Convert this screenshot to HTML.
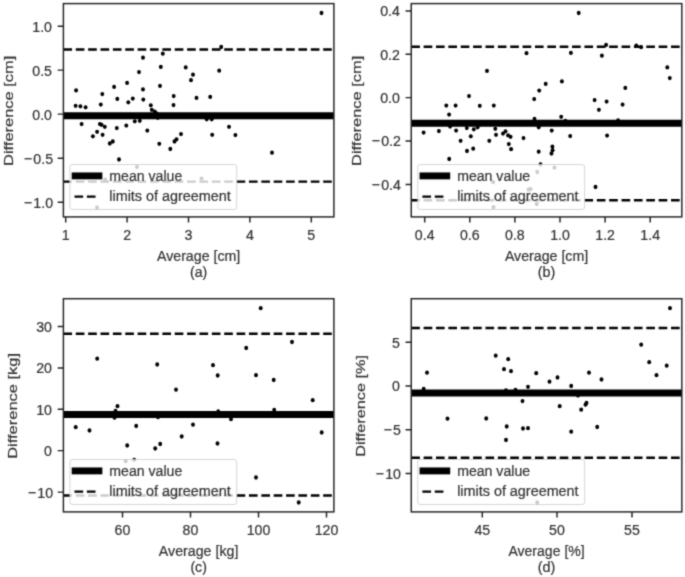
<!DOCTYPE html>
<html lang="en">
<head>
<meta charset="utf-8">
<title>Bland-Altman plots</title>
<style>
html,body{margin:0;padding:0;background:#fff;}
body{width:685px;height:577px;overflow:hidden;font-family:"Liberation Sans", sans-serif;}
svg{display:block;}
svg text{font-family:"Liberation Sans", sans-serif;fill:#333;stroke:#333;stroke-width:0.22px;}
</style>
</head>
<body>
<svg width="685" height="577" viewBox="0 0 685 577">
<defs>
<filter id="soft" filterUnits="userSpaceOnUse" x="0" y="0" width="685" height="577" color-interpolation-filters="sRGB">
<feConvolveMatrix order="3" kernelMatrix="0.02890 0.11220 0.02890 0.11220 0.43560 0.11220 0.02890 0.11220 0.02890" divisor="1" edgeMode="duplicate" preserveAlpha="false"/>
</filter>
</defs>
<rect width="685" height="577" fill="#fff"/>
<g filter="url(#soft)">
<rect width="685" height="577" fill="#fff"/>
<g id="panel-a">
<g fill="#000"><ellipse cx="76.1" cy="90.4" rx="1.95" ry="2.15"/><ellipse cx="75.6" cy="105.8" rx="1.95" ry="2.15"/><ellipse cx="80.4" cy="106.3" rx="1.95" ry="2.15"/><ellipse cx="85.6" cy="107.3" rx="1.95" ry="2.15"/><ellipse cx="81.6" cy="124.1" rx="1.95" ry="2.15"/><ellipse cx="102.3" cy="94.1" rx="1.95" ry="2.15"/><ellipse cx="100.8" cy="104.6" rx="1.95" ry="2.15"/><ellipse cx="114.1" cy="86.9" rx="1.95" ry="2.15"/><ellipse cx="117.3" cy="98.9" rx="1.95" ry="2.15"/><ellipse cx="127.1" cy="82.9" rx="1.95" ry="2.15"/><ellipse cx="128.3" cy="102.3" rx="1.95" ry="2.15"/><ellipse cx="132.8" cy="98.6" rx="1.95" ry="2.15"/><ellipse cx="139.0" cy="72.1" rx="1.95" ry="2.15"/><ellipse cx="143.0" cy="57.7" rx="1.95" ry="2.15"/><ellipse cx="143.0" cy="89.4" rx="1.95" ry="2.15"/><ellipse cx="143.3" cy="99.6" rx="1.95" ry="2.15"/><ellipse cx="150.8" cy="105.3" rx="1.95" ry="2.15"/><ellipse cx="151.8" cy="109.8" rx="1.95" ry="2.15"/><ellipse cx="154.8" cy="111.6" rx="1.95" ry="2.15"/><ellipse cx="156.8" cy="113.6" rx="1.95" ry="2.15"/><ellipse cx="157.8" cy="117.8" rx="1.95" ry="2.15"/><ellipse cx="160.8" cy="66.9" rx="1.95" ry="2.15"/><ellipse cx="160.0" cy="85.9" rx="1.95" ry="2.15"/><ellipse cx="162.8" cy="53.7" rx="1.95" ry="2.15"/><ellipse cx="99.9" cy="124.1" rx="1.95" ry="2.15"/><ellipse cx="101.6" cy="124.8" rx="1.95" ry="2.15"/><ellipse cx="104.8" cy="126.8" rx="1.95" ry="2.15"/><ellipse cx="97.1" cy="131.8" rx="1.95" ry="2.15"/><ellipse cx="92.9" cy="136.3" rx="1.95" ry="2.15"/><ellipse cx="102.6" cy="134.8" rx="1.95" ry="2.15"/><ellipse cx="116.8" cy="128.1" rx="1.95" ry="2.15"/><ellipse cx="126.3" cy="125.6" rx="1.95" ry="2.15"/><ellipse cx="134.8" cy="121.3" rx="1.95" ry="2.15"/><ellipse cx="139.8" cy="120.8" rx="1.95" ry="2.15"/><ellipse cx="147.3" cy="130.6" rx="1.95" ry="2.15"/><ellipse cx="112.8" cy="141.5" rx="1.95" ry="2.15"/><ellipse cx="109.8" cy="143.5" rx="1.95" ry="2.15"/><ellipse cx="159.3" cy="143.8" rx="1.95" ry="2.15"/><ellipse cx="321.5" cy="13.0" rx="1.95" ry="2.15"/><ellipse cx="221.2" cy="47.0" rx="1.95" ry="2.15"/><ellipse cx="185.7" cy="67.4" rx="1.95" ry="2.15"/><ellipse cx="193.0" cy="74.7" rx="1.95" ry="2.15"/><ellipse cx="191.0" cy="80.2" rx="1.95" ry="2.15"/><ellipse cx="219.2" cy="70.7" rx="1.95" ry="2.15"/><ellipse cx="173.7" cy="96.1" rx="1.95" ry="2.15"/><ellipse cx="173.5" cy="105.1" rx="1.95" ry="2.15"/><ellipse cx="196.5" cy="97.9" rx="1.95" ry="2.15"/><ellipse cx="210.2" cy="96.9" rx="1.95" ry="2.15"/><ellipse cx="206.7" cy="119.3" rx="1.95" ry="2.15"/><ellipse cx="211.7" cy="119.3" rx="1.95" ry="2.15"/><ellipse cx="229.0" cy="126.8" rx="1.95" ry="2.15"/><ellipse cx="235.4" cy="135.1" rx="1.95" ry="2.15"/><ellipse cx="212.2" cy="134.8" rx="1.95" ry="2.15"/><ellipse cx="181.0" cy="134.1" rx="1.95" ry="2.15"/><ellipse cx="176.5" cy="139.3" rx="1.95" ry="2.15"/><ellipse cx="174.5" cy="141.5" rx="1.95" ry="2.15"/><ellipse cx="119.0" cy="159.5" rx="1.95" ry="2.15"/><ellipse cx="170.3" cy="149.0" rx="1.95" ry="2.15"/><ellipse cx="272.0" cy="152.7" rx="1.95" ry="2.15"/><ellipse cx="137.0" cy="167.0" rx="1.95" ry="2.15"/><ellipse cx="97.0" cy="207.5" rx="1.95" ry="2.15"/><ellipse cx="105.2" cy="179.6" rx="1.95" ry="2.15"/><ellipse cx="201.5" cy="178.6" rx="1.95" ry="2.15"/></g>
<line x1="63.4" x2="333.85" y1="115.7" y2="115.7" stroke="#000" stroke-width="6.9"/>
<line x1="63.4" x2="333.85" y1="49.5" y2="49.5" stroke="#000" stroke-width="2.45" stroke-dasharray="8.65 3.72"/>
<line x1="63.4" x2="333.85" y1="181.6" y2="181.6" stroke="#000" stroke-width="2.45" stroke-dasharray="8.65 3.72"/>
<path d="M65.7 216.9v5.7M127.1 216.9v5.7M188.5 216.9v5.7M249.9 216.9v5.7M311.3 216.9v5.7M63.4 26.2h-5.7M63.4 70.1h-5.7M63.4 114.1h-5.7M63.4 158.2h-5.7M63.4 202.2h-5.7" stroke="#222" stroke-width="1.45" fill="none"/>
<rect x="63.4" y="3.6" width="270.5" height="213.3" fill="none" stroke="#222" stroke-width="1.45"/>
<text transform="translate(65.70 240.40) scale(0.9211 1)" text-anchor="middle" font-size="15.4">1</text>
<text transform="translate(127.10 240.40) scale(0.9211 1)" text-anchor="middle" font-size="15.4">2</text>
<text transform="translate(188.50 240.40) scale(0.9211 1)" text-anchor="middle" font-size="15.4">3</text>
<text transform="translate(249.90 240.40) scale(0.9211 1)" text-anchor="middle" font-size="15.4">4</text>
<text transform="translate(311.30 240.40) scale(0.9211 1)" text-anchor="middle" font-size="15.4">5</text>
<text transform="translate(52.00 31.60) scale(0.9212 1)" text-anchor="end" font-size="15.4">1.0</text>
<text transform="translate(52.00 75.50) scale(0.9212 1)" text-anchor="end" font-size="15.4">0.5</text>
<text transform="translate(52.00 119.50) scale(0.9212 1)" text-anchor="end" font-size="15.4">0.0</text>
<text transform="translate(52.00 163.60) scale(0.9212 1)" text-anchor="end" font-size="15.4" dx="1.14 1.14">−0.5</text>
<text transform="translate(52.00 207.60) scale(0.9212 1)" text-anchor="end" font-size="15.4" dx="1.14 1.14">−1.0</text>
<text transform="translate(198.62 260.80) scale(0.9225 1)" text-anchor="middle" font-size="15.4">Average [cm]</text>
<text transform="translate(198.62 276.50) scale(0.9178 1)" text-anchor="middle" font-size="15.4">(a)</text>
<text transform="translate(13.10 110.85) rotate(-90) scale(1.2545 1)" text-anchor="middle" font-size="13.1">Difference [cm]</text>
<rect x="69.9" y="164.5" width="166.8" height="45.0" rx="2.4" fill="#fff" fill-opacity="0.8" stroke="#ccc" stroke-opacity="0.8" stroke-width="1"/>
<line x1="71.70" x2="102.35" y1="175.9" y2="175.9" stroke="#000" stroke-width="6.9"/>
<line x1="74.5" x2="96.2" y1="196.6" y2="196.6" stroke="#000" stroke-width="2.45" stroke-dasharray="8.65 3.72"/>
<text transform="translate(109.30 181.20) scale(0.9166 1)" text-anchor="start" font-size="15.4">mean value</text>
<text transform="translate(109.30 200.70) scale(0.9343 1)" text-anchor="start" font-size="15.4">limits of agreement</text>
</g>
<g id="panel-b">
<g fill="#000"><ellipse cx="487.0" cy="70.9" rx="1.95" ry="2.15"/><ellipse cx="469.0" cy="96.1" rx="1.95" ry="2.15"/><ellipse cx="446.3" cy="105.6" rx="1.95" ry="2.15"/><ellipse cx="455.6" cy="105.6" rx="1.95" ry="2.15"/><ellipse cx="479.8" cy="105.8" rx="1.95" ry="2.15"/><ellipse cx="493.8" cy="105.6" rx="1.95" ry="2.15"/><ellipse cx="449.1" cy="114.6" rx="1.95" ry="2.15"/><ellipse cx="450.1" cy="126.6" rx="1.95" ry="2.15"/><ellipse cx="423.6" cy="132.6" rx="1.95" ry="2.15"/><ellipse cx="438.9" cy="131.1" rx="1.95" ry="2.15"/><ellipse cx="456.1" cy="130.6" rx="1.95" ry="2.15"/><ellipse cx="466.8" cy="128.1" rx="1.95" ry="2.15"/><ellipse cx="473.8" cy="129.3" rx="1.95" ry="2.15"/><ellipse cx="477.6" cy="127.3" rx="1.95" ry="2.15"/><ellipse cx="470.8" cy="136.3" rx="1.95" ry="2.15"/><ellipse cx="460.6" cy="140.8" rx="1.95" ry="2.15"/><ellipse cx="489.3" cy="140.8" rx="1.95" ry="2.15"/><ellipse cx="495.3" cy="128.8" rx="1.95" ry="2.15"/><ellipse cx="496.0" cy="134.8" rx="1.95" ry="2.15"/><ellipse cx="503.0" cy="133.6" rx="1.95" ry="2.15"/><ellipse cx="505.5" cy="131.3" rx="1.95" ry="2.15"/><ellipse cx="508.1" cy="135.4" rx="1.95" ry="2.15"/><ellipse cx="510.6" cy="136.8" rx="1.95" ry="2.15"/><ellipse cx="578.7" cy="13.0" rx="1.95" ry="2.15"/><ellipse cx="606.1" cy="44.9" rx="1.95" ry="2.15"/><ellipse cx="636.3" cy="45.7" rx="1.95" ry="2.15"/><ellipse cx="641.1" cy="47.2" rx="1.95" ry="2.15"/><ellipse cx="526.5" cy="53.2" rx="1.95" ry="2.15"/><ellipse cx="570.9" cy="52.9" rx="1.95" ry="2.15"/><ellipse cx="601.9" cy="55.7" rx="1.95" ry="2.15"/><ellipse cx="667.3" cy="67.4" rx="1.95" ry="2.15"/><ellipse cx="669.8" cy="78.1" rx="1.95" ry="2.15"/><ellipse cx="561.9" cy="81.4" rx="1.95" ry="2.15"/><ellipse cx="545.7" cy="83.9" rx="1.95" ry="2.15"/><ellipse cx="539.2" cy="90.6" rx="1.95" ry="2.15"/><ellipse cx="625.3" cy="87.9" rx="1.95" ry="2.15"/><ellipse cx="534.2" cy="99.1" rx="1.95" ry="2.15"/><ellipse cx="594.6" cy="100.1" rx="1.95" ry="2.15"/><ellipse cx="606.6" cy="101.6" rx="1.95" ry="2.15"/><ellipse cx="622.6" cy="104.6" rx="1.95" ry="2.15"/><ellipse cx="598.9" cy="109.8" rx="1.95" ry="2.15"/><ellipse cx="561.2" cy="116.8" rx="1.95" ry="2.15"/><ellipse cx="534.5" cy="118.8" rx="1.95" ry="2.15"/><ellipse cx="565.4" cy="120.8" rx="1.95" ry="2.15"/><ellipse cx="618.1" cy="120.3" rx="1.95" ry="2.15"/><ellipse cx="538.7" cy="127.3" rx="1.95" ry="2.15"/><ellipse cx="551.7" cy="130.6" rx="1.95" ry="2.15"/><ellipse cx="523.5" cy="138.1" rx="1.95" ry="2.15"/><ellipse cx="570.2" cy="136.1" rx="1.95" ry="2.15"/><ellipse cx="607.1" cy="135.6" rx="1.95" ry="2.15"/><ellipse cx="449.2" cy="159.0" rx="1.95" ry="2.15"/><ellipse cx="467.0" cy="151.0" rx="1.95" ry="2.15"/><ellipse cx="473.2" cy="148.7" rx="1.95" ry="2.15"/><ellipse cx="508.8" cy="144.1" rx="1.95" ry="2.15"/><ellipse cx="511.1" cy="149.2" rx="1.95" ry="2.15"/><ellipse cx="538.7" cy="151.7" rx="1.95" ry="2.15"/><ellipse cx="552.4" cy="146.7" rx="1.95" ry="2.15"/><ellipse cx="552.6" cy="150.2" rx="1.95" ry="2.15"/><ellipse cx="551.5" cy="153.5" rx="1.95" ry="2.15"/><ellipse cx="540.5" cy="164.5" rx="1.95" ry="2.15"/><ellipse cx="595.5" cy="187.0" rx="1.95" ry="2.15"/><ellipse cx="493.2" cy="182.2" rx="1.95" ry="2.15"/><ellipse cx="493.5" cy="207.2" rx="1.95" ry="2.15"/><ellipse cx="554.5" cy="167.7" rx="1.95" ry="2.15"/><ellipse cx="537.2" cy="172.0" rx="1.95" ry="2.15"/><ellipse cx="528.5" cy="189.7" rx="1.95" ry="2.15"/><ellipse cx="530.5" cy="189.2" rx="1.95" ry="2.15"/><ellipse cx="536.7" cy="204.0" rx="1.95" ry="2.15"/></g>
<line x1="411.25" x2="681.85" y1="123.25" y2="123.25" stroke="#000" stroke-width="6.9"/>
<line x1="411.25" x2="681.85" y1="46.7" y2="46.7" stroke="#000" stroke-width="2.45" stroke-dasharray="8.65 3.72"/>
<line x1="411.25" x2="681.85" y1="200.2" y2="200.2" stroke="#000" stroke-width="2.45" stroke-dasharray="8.65 3.72"/>
<path d="M424.7 216.9v5.7M469.8 216.9v5.7M514.9 216.9v5.7M560.0 216.9v5.7M605.1 216.9v5.7M650.2 216.9v5.7M411.25 11.0h-5.7M411.25 54.3h-5.7M411.25 97.6h-5.7M411.25 141.0h-5.7M411.25 184.4h-5.7" stroke="#222" stroke-width="1.45" fill="none"/>
<rect x="411.25" y="3.6" width="270.6" height="213.3" fill="none" stroke="#222" stroke-width="1.45"/>
<text transform="translate(424.70 240.40) scale(0.9212 1)" text-anchor="middle" font-size="15.4">0.4</text>
<text transform="translate(469.80 240.40) scale(0.9212 1)" text-anchor="middle" font-size="15.4">0.6</text>
<text transform="translate(514.90 240.40) scale(0.9212 1)" text-anchor="middle" font-size="15.4">0.8</text>
<text transform="translate(560.00 240.40) scale(0.9212 1)" text-anchor="middle" font-size="15.4">1.0</text>
<text transform="translate(605.10 240.40) scale(0.9212 1)" text-anchor="middle" font-size="15.4">1.2</text>
<text transform="translate(650.20 240.40) scale(0.9212 1)" text-anchor="middle" font-size="15.4">1.4</text>
<text transform="translate(399.85 16.40) scale(0.9212 1)" text-anchor="end" font-size="15.4">0.4</text>
<text transform="translate(399.85 59.70) scale(0.9212 1)" text-anchor="end" font-size="15.4">0.2</text>
<text transform="translate(399.85 103.00) scale(0.9212 1)" text-anchor="end" font-size="15.4">0.0</text>
<text transform="translate(399.85 146.40) scale(0.9212 1)" text-anchor="end" font-size="15.4" dx="1.14 1.14">−0.2</text>
<text transform="translate(399.85 189.80) scale(0.9212 1)" text-anchor="end" font-size="15.4" dx="1.14 1.14">−0.4</text>
<text transform="translate(546.55 260.80) scale(0.9225 1)" text-anchor="middle" font-size="15.4">Average [cm]</text>
<text transform="translate(546.55 276.50) scale(0.9323 1)" text-anchor="middle" font-size="15.4">(b)</text>
<text transform="translate(360.95 110.85) rotate(-90) scale(1.2545 1)" text-anchor="middle" font-size="13.1">Difference [cm]</text>
<rect x="417.8" y="164.5" width="166.8" height="45.0" rx="2.4" fill="#fff" fill-opacity="0.8" stroke="#ccc" stroke-opacity="0.8" stroke-width="1"/>
<line x1="419.55" x2="450.20" y1="175.9" y2="175.9" stroke="#000" stroke-width="6.9"/>
<line x1="422.4" x2="444.1" y1="196.6" y2="196.6" stroke="#000" stroke-width="2.45" stroke-dasharray="8.65 3.72"/>
<text transform="translate(457.15 181.20) scale(0.9166 1)" text-anchor="start" font-size="15.4">mean value</text>
<text transform="translate(457.15 200.70) scale(0.9343 1)" text-anchor="start" font-size="15.4">limits of agreement</text>
</g>
<g id="panel-c">
<g fill="#000"><ellipse cx="97.2" cy="358.7" rx="1.95" ry="2.15"/><ellipse cx="157.2" cy="364.5" rx="1.95" ry="2.15"/><ellipse cx="117.5" cy="406.2" rx="1.95" ry="2.15"/><ellipse cx="115.5" cy="411.0" rx="1.95" ry="2.15"/><ellipse cx="114.5" cy="417.7" rx="1.95" ry="2.15"/><ellipse cx="158.0" cy="417.2" rx="1.95" ry="2.15"/><ellipse cx="75.7" cy="427.2" rx="1.95" ry="2.15"/><ellipse cx="89.5" cy="430.5" rx="1.95" ry="2.15"/><ellipse cx="136.2" cy="426.0" rx="1.95" ry="2.15"/><ellipse cx="260.7" cy="308.2" rx="1.95" ry="2.15"/><ellipse cx="292.0" cy="342.0" rx="1.95" ry="2.15"/><ellipse cx="246.2" cy="348.0" rx="1.95" ry="2.15"/><ellipse cx="213.0" cy="365.2" rx="1.95" ry="2.15"/><ellipse cx="217.7" cy="375.5" rx="1.95" ry="2.15"/><ellipse cx="256.0" cy="375.2" rx="1.95" ry="2.15"/><ellipse cx="273.7" cy="380.0" rx="1.95" ry="2.15"/><ellipse cx="176.0" cy="389.7" rx="1.95" ry="2.15"/><ellipse cx="312.7" cy="400.2" rx="1.95" ry="2.15"/><ellipse cx="218.2" cy="411.5" rx="1.95" ry="2.15"/><ellipse cx="274.2" cy="410.0" rx="1.95" ry="2.15"/><ellipse cx="231.0" cy="419.2" rx="1.95" ry="2.15"/><ellipse cx="193.0" cy="424.7" rx="1.95" ry="2.15"/><ellipse cx="321.7" cy="432.5" rx="1.95" ry="2.15"/><ellipse cx="127.2" cy="445.5" rx="1.95" ry="2.15"/><ellipse cx="155.2" cy="448.5" rx="1.95" ry="2.15"/><ellipse cx="160.2" cy="444.0" rx="1.95" ry="2.15"/><ellipse cx="181.7" cy="436.5" rx="1.95" ry="2.15"/><ellipse cx="217.5" cy="443.5" rx="1.95" ry="2.15"/><ellipse cx="256.0" cy="477.5" rx="1.95" ry="2.15"/><ellipse cx="298.7" cy="502.5" rx="1.95" ry="2.15"/><ellipse cx="125.7" cy="461.2" rx="1.95" ry="2.15"/><ellipse cx="134.2" cy="459.8" rx="1.95" ry="2.15"/></g>
<line x1="63.4" x2="333.85" y1="414.5" y2="414.5" stroke="#000" stroke-width="6.9"/>
<line x1="63.4" x2="333.85" y1="333.7" y2="333.7" stroke="#000" stroke-width="2.45" stroke-dasharray="8.65 3.72"/>
<line x1="63.4" x2="333.85" y1="495.5" y2="495.5" stroke="#000" stroke-width="2.45" stroke-dasharray="8.65 3.72"/>
<path d="M122.5 511.9v5.7M190.5 511.9v5.7M258.5 511.9v5.7M326.5 511.9v5.7M63.4 326.5h-5.7M63.4 368.0h-5.7M63.4 409.3h-5.7M63.4 450.6h-5.7M63.4 492.1h-5.7" stroke="#222" stroke-width="1.45" fill="none"/>
<rect x="63.4" y="298.7" width="270.5" height="213.2" fill="none" stroke="#222" stroke-width="1.45"/>
<text transform="translate(122.50 535.40) scale(0.9211 1)" text-anchor="middle" font-size="15.4">60</text>
<text transform="translate(190.50 535.40) scale(0.9211 1)" text-anchor="middle" font-size="15.4">80</text>
<text transform="translate(258.50 535.40) scale(0.9211 1)" text-anchor="middle" font-size="15.4">100</text>
<text transform="translate(326.50 535.40) scale(0.9211 1)" text-anchor="middle" font-size="15.4">120</text>
<text transform="translate(52.00 331.90) scale(0.9211 1)" text-anchor="end" font-size="15.4">30</text>
<text transform="translate(52.00 373.40) scale(0.9211 1)" text-anchor="end" font-size="15.4">20</text>
<text transform="translate(52.00 414.70) scale(0.9211 1)" text-anchor="end" font-size="15.4">10</text>
<text transform="translate(52.00 456.00) scale(0.9211 1)" text-anchor="end" font-size="15.4">0</text>
<text transform="translate(52.00 497.50) scale(0.9211 1)" text-anchor="end" font-size="15.4" dx="1.14 1.14">−10</text>
<text transform="translate(198.62 555.80) scale(0.9235 1)" text-anchor="middle" font-size="15.4">Average [kg]</text>
<text transform="translate(198.62 571.50) scale(0.9185 1)" text-anchor="middle" font-size="15.4">(c)</text>
<text transform="translate(17.20 405.90) rotate(-90) scale(1.2563 1)" text-anchor="middle" font-size="13.1">Difference [kg]</text>
<rect x="69.9" y="459.5" width="166.8" height="45.0" rx="2.4" fill="#fff" fill-opacity="0.8" stroke="#ccc" stroke-opacity="0.8" stroke-width="1"/>
<line x1="71.70" x2="102.35" y1="470.9" y2="470.9" stroke="#000" stroke-width="6.9"/>
<line x1="74.5" x2="96.2" y1="491.6" y2="491.6" stroke="#000" stroke-width="2.45" stroke-dasharray="8.65 3.72"/>
<text transform="translate(109.30 476.20) scale(0.9166 1)" text-anchor="start" font-size="15.4">mean value</text>
<text transform="translate(109.30 495.70) scale(0.9343 1)" text-anchor="start" font-size="15.4">limits of agreement</text>
</g>
<g id="panel-d">
<g fill="#000"><ellipse cx="427.0" cy="372.7" rx="1.95" ry="2.15"/><ellipse cx="423.7" cy="389.0" rx="1.95" ry="2.15"/><ellipse cx="495.7" cy="355.7" rx="1.95" ry="2.15"/><ellipse cx="508.2" cy="359.2" rx="1.95" ry="2.15"/><ellipse cx="504.0" cy="369.2" rx="1.95" ry="2.15"/><ellipse cx="511.0" cy="371.2" rx="1.95" ry="2.15"/><ellipse cx="447.5" cy="418.7" rx="1.95" ry="2.15"/><ellipse cx="486.2" cy="418.5" rx="1.95" ry="2.15"/><ellipse cx="506.7" cy="426.5" rx="1.95" ry="2.15"/><ellipse cx="506.0" cy="390.4" rx="1.95" ry="2.15"/><ellipse cx="670.0" cy="308.2" rx="1.95" ry="2.15"/><ellipse cx="641.2" cy="344.7" rx="1.95" ry="2.15"/><ellipse cx="649.2" cy="362.2" rx="1.95" ry="2.15"/><ellipse cx="666.7" cy="365.7" rx="1.95" ry="2.15"/><ellipse cx="656.5" cy="375.2" rx="1.95" ry="2.15"/><ellipse cx="536.2" cy="373.2" rx="1.95" ry="2.15"/><ellipse cx="557.5" cy="377.5" rx="1.95" ry="2.15"/><ellipse cx="549.5" cy="381.7" rx="1.95" ry="2.15"/><ellipse cx="589.0" cy="372.7" rx="1.95" ry="2.15"/><ellipse cx="601.5" cy="379.5" rx="1.95" ry="2.15"/><ellipse cx="571.2" cy="386.0" rx="1.95" ry="2.15"/><ellipse cx="528.0" cy="386.8" rx="1.95" ry="2.15"/><ellipse cx="515.5" cy="390.0" rx="1.95" ry="2.15"/><ellipse cx="522.5" cy="401.1" rx="1.95" ry="2.15"/><ellipse cx="559.7" cy="406.2" rx="1.95" ry="2.15"/><ellipse cx="586.5" cy="403.0" rx="1.95" ry="2.15"/><ellipse cx="585.5" cy="404.7" rx="1.95" ry="2.15"/><ellipse cx="581.2" cy="409.7" rx="1.95" ry="2.15"/><ellipse cx="578.0" cy="395.5" rx="1.95" ry="2.15"/><ellipse cx="597.2" cy="427.0" rx="1.95" ry="2.15"/><ellipse cx="523.0" cy="428.5" rx="1.95" ry="2.15"/><ellipse cx="528.0" cy="428.2" rx="1.95" ry="2.15"/><ellipse cx="571.2" cy="431.7" rx="1.95" ry="2.15"/><ellipse cx="506.0" cy="440.0" rx="1.95" ry="2.15"/><ellipse cx="537.2" cy="502.5" rx="1.95" ry="2.15"/></g>
<line x1="411.25" x2="681.85" y1="393.0" y2="393.0" stroke="#000" stroke-width="6.9"/>
<line x1="411.25" x2="681.85" y1="328.0" y2="328.0" stroke="#000" stroke-width="2.45" stroke-dasharray="8.65 3.72"/>
<line x1="411.25" x2="681.85" y1="457.8" y2="457.8" stroke="#000" stroke-width="2.45" stroke-dasharray="8.65 3.72"/>
<path d="M482.3 511.9v5.7M557.0 511.9v5.7M632.0 511.9v5.7M411.25 342.2h-5.7M411.25 386.0h-5.7M411.25 429.7h-5.7M411.25 473.5h-5.7" stroke="#222" stroke-width="1.45" fill="none"/>
<rect x="411.25" y="298.7" width="270.6" height="213.2" fill="none" stroke="#222" stroke-width="1.45"/>
<text transform="translate(482.30 535.40) scale(0.9211 1)" text-anchor="middle" font-size="15.4">45</text>
<text transform="translate(557.00 535.40) scale(0.9211 1)" text-anchor="middle" font-size="15.4">50</text>
<text transform="translate(632.00 535.40) scale(0.9211 1)" text-anchor="middle" font-size="15.4">55</text>
<text transform="translate(399.85 347.60) scale(0.9211 1)" text-anchor="end" font-size="15.4">5</text>
<text transform="translate(399.85 391.40) scale(0.9211 1)" text-anchor="end" font-size="15.4">0</text>
<text transform="translate(399.85 435.10) scale(0.9211 1)" text-anchor="end" font-size="15.4" dx="1.14 1.14">−5</text>
<text transform="translate(399.85 478.90) scale(0.9211 1)" text-anchor="end" font-size="15.4" dx="1.14 1.14">−10</text>
<text transform="translate(546.55 555.80) scale(0.9128 1)" text-anchor="middle" font-size="15.4">Average [%]</text>
<text transform="translate(546.55 571.50) scale(0.9323 1)" text-anchor="middle" font-size="15.4">(d)</text>
<text transform="translate(365.05 405.90) rotate(-90) scale(1.2443 1)" text-anchor="middle" font-size="13.1">Difference [%]</text>
<rect x="417.8" y="459.5" width="166.8" height="45.0" rx="2.4" fill="#fff" fill-opacity="0.8" stroke="#ccc" stroke-opacity="0.8" stroke-width="1"/>
<line x1="419.55" x2="450.20" y1="470.9" y2="470.9" stroke="#000" stroke-width="6.9"/>
<line x1="422.4" x2="444.1" y1="491.6" y2="491.6" stroke="#000" stroke-width="2.45" stroke-dasharray="8.65 3.72"/>
<text transform="translate(457.15 476.20) scale(0.9166 1)" text-anchor="start" font-size="15.4">mean value</text>
<text transform="translate(457.15 495.70) scale(0.9343 1)" text-anchor="start" font-size="15.4">limits of agreement</text>
</g>
</g>
</svg>
</body>
</html>
